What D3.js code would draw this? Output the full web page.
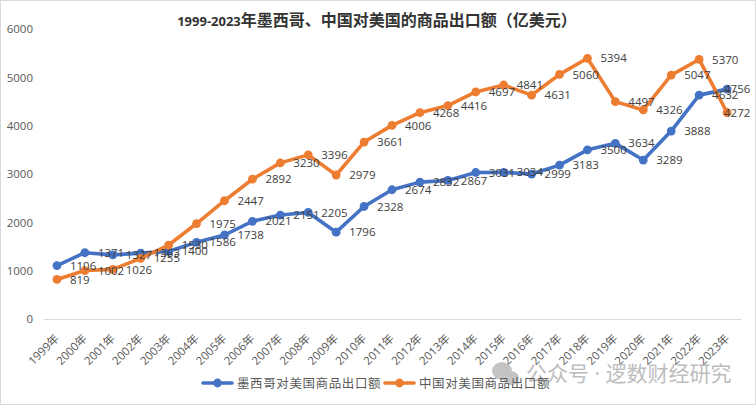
<!DOCTYPE html>
<html>
<head>
<meta charset="utf-8">
<script src="https://cdn.jsdelivr.net/npm/d3@7"></script>
<style>
  html, body { margin: 0; padding: 0; background: #fff; }
  svg { display: block; }
  text { font-family: "Open Sans", "Noto Sans CJK SC", sans-serif; }
</style>
</head>
<body>
<div id="chart"></div>
<script>
const years = ['1999年','2000年','2001年','2002年','2003年','2004年','2005年','2006年','2007年','2008年','2009年','2010年','2011年','2012年','2013年','2014年','2015年','2016年','2017年','2018年','2019年','2020年','2021年','2022年','2023年']
const mexico = [1106,1371,1327,1363,1400,1586,1738,2021,2151,2205,1796,2328,2674,2832,2867,3031,3034,2999,3183,3500,3634,3289,3888,4632,4756]
const china = [819,1002,1026,1255,1530,1975,2447,2892,3230,3396,2979,3661,4006,4268,4416,4697,4841,4631,5060,5394,4497,4326,5047,5370,4272]
const yTicks = [0,1000,2000,3000,4000,5000,6000]
const seriesNames = ['墨西哥对美国商品出口额','中国对美国商品出口额']
const colors = ['#4472c4','#ed7d31']

const width = 756
const height = 405

const svg = d3.select('#chart').append('svg').attr('width', width).attr('height', height)

// chart frame
svg.append('rect')
  .attr('x', 0.5).attr('y', 0.5)
  .attr('width', width - 1).attr('height', height - 1)
  .attr('fill', '#fff').attr('stroke', '#d9d9d9')

// scales
const x = d3.scaleBand().domain(years).range([43, 741])
const y = d3.scaleLinear().domain([0, 6000]).range([319, 29])
const cx = d => x(d) + x.bandwidth() / 2

// y-axis
const yAxis = svg.append('g')
  .attr('transform', 'translate(43, 0)')
  .call(d3.axisLeft(y).tickValues(yTicks).tickSize(0).tickPadding(10).tickFormat(d3.format('d')))
yAxis.select('.domain').remove()
yAxis.selectAll('text').attr('font-size', 11.5).attr('fill', '#595959')
  .style('font-family', '"Open Sans", "Noto Sans CJK SC", sans-serif')

// x-axis
const xAxis = svg.append('g')
  .attr('transform', 'translate(0, 319)')
  .call(d3.axisBottom(x).tickSize(0))
xAxis.select('.domain').attr('stroke', '#d9d9d9').attr('stroke-width', 1)
xAxis.selectAll('text')
  .attr('font-size', 11.5)
  .attr('fill', '#595959')
  .style('font-family', '"Open Sans", "Noto Sans CJK SC", sans-serif')
  .attr('text-anchor', 'end')
  .attr('dy', 0)
  .attr('y', 0)
  .attr('transform', 'translate(3, 20) rotate(-45)')

const line = d3.line().x((d, i) => cx(years[i])).y(d => y(d))

// lines + markers
;[mexico, china].forEach((values, s) => {
  svg.append('path')
    .attr('d', line(values))
    .attr('fill', 'none')
    .attr('stroke', colors[s])
    .attr('stroke-width', 3.6)
    .attr('stroke-linejoin', 'round')
    .attr('stroke-linecap', 'round')

  svg.append('g').selectAll('circle').data(values).enter().append('circle')
    .attr('cx', (d, i) => cx(years[i]))
    .attr('cy', d => y(d))
    .attr('r', 4.4)
    .attr('fill', colors[s])
})

// data labels, right of each point; the last year is pushed back inside the frame
;[mexico, china].forEach(values => {
  svg.append('g').selectAll('text').data(values).enter().append('text')
    .attr('x', (d, i) => cx(years[i]) + (i === years.length - 1 ? -3 : 13))
    .attr('y', d => y(d))
    .attr('dy', '0.36em')
    .attr('font-size', 11.5)
    .attr('fill', '#404040')
    .text(d => d)
})

// title
const title = svg.append('text')
  .attr('x', 377).attr('y', 26)
  .attr('text-anchor', 'middle')
  .attr('font-weight', 'bold')
  .attr('fill', '#333')
title.append('tspan').attr('font-size', 13).text('1999-2023')
title.append('tspan').attr('font-size', 16).text('年墨西哥、中国对美国的商品出口额（亿美元）')

// watermark sits under the legend
const mark = svg.append('g').attr('fill', '#c4c4c4')
mark.append('ellipse').attr('cx', 502).attr('cy', 371).attr('rx', 10).attr('ry', 9)
mark.append('ellipse').attr('cx', 511).attr('cy', 378).attr('rx', 8).attr('ry', 7)
svg.append('text')
  .attr('x', 526).attr('y', 381)
  .attr('font-size', 21)
  .attr('fill', '#bdbdbd')
  .text('公众号 · 逻数财经研究')

// legend
const legendX = [203, 385]
seriesNames.forEach((name, s) => {
  const g = svg.append('g').attr('transform', `translate(${legendX[s]}, 383)`)
  g.append('line').attr('x1', 0).attr('x2', 29).attr('stroke', colors[s])
    .attr('stroke-width', 3.6).attr('stroke-linecap', 'round')
  g.append('circle').attr('cx', 14.5).attr('r', 4.4).attr('fill', colors[s])
  g.append('text').attr('x', 34).attr('dy', '0.36em')
    .attr('font-size', 12.5).attr('letter-spacing', 0.6).attr('fill', '#595959').text(name)
})
</script>
</body>
</html>
